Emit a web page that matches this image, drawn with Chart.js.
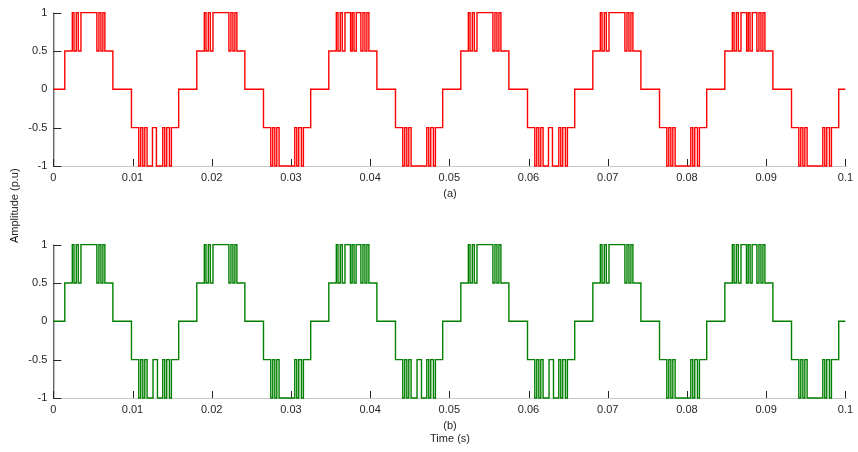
<!DOCTYPE html>
<html>
<head>
<meta charset="utf-8">
<script src="https://cdn.jsdelivr.net/npm/chart.js@4.4.1/dist/chart.umd.min.js"></script>
<style>
  html, body { margin: 0; padding: 0; background: #fff; }
  #wrap { position: relative; width: 858px; height: 452px; overflow: hidden;
          font-family: "Liberation Sans", Arial, sans-serif; color: #262626; }
  .panel { position: absolute; left: 0; }
  .lbl { position: absolute; font-size: 11px; line-height: 13px; white-space: nowrap;
         transform: translate(-50%, -50%); }
  .ylbl { position: absolute; font-size: 11px; line-height: 13px; white-space: nowrap;
          transform-origin: 0 0; transform: rotate(-90deg); color: #1a1a1a; }
</style>
</head>
<body>
<div id="wrap">
  <div class="panel" style="top:0"><canvas id="chartA" width="858" height="190"></canvas></div>
  <div class="panel" style="top:232px"><canvas id="chartB" width="858" height="190"></canvas></div>
  <div class="lbl" style="left:450px;top:193px">(a)</div>
  <div class="lbl" style="left:450px;top:425px">(b)</div>
  <div class="lbl" style="left:450px;top:438px">Time (s)</div>
  <div class="ylbl" style="left:8px;top:243px">Amplitude (p.u)</div>
</div>
<script>
// all times in ms
const cycleStart = [0, 16.667, 33.333, 50, 66.667, 83.333];
const stairEdges = [1.45, 7.52, 9.87, 15.83];
const stairLevels = [0.5, 0, -0.5, 0];

// switching instants between the half level and the full level
// (first one goes out to the full level, then they alternate)
const topEdges = [2.40, 2.61, 2.90, 3.15, 3.49, 5.50, 5.76, 6.01, 6.26, 6.51];
const bottomEdges = [10.79, 11.04, 11.30, 11.55, 11.84, 13.82, 14.07, 14.32, 14.66, 14.91];

// extra dips back to the half level inside the flat part
const topNotchesA = [4.20, 4.41, 4.63, 4.92];
const bottomNotchesA = [12.52, 13.02];
const topNotchesB = [4.18, 4.40, 4.64, 4.90];
const bottomNotchesB = [12.59, 13.15];

// which cycles have those dips
const notchTopA = [false, false, true, false, false, true];
const notchBottomA = [true, false, false, true, false, false];
const notchTopB = [false, false, true, false, false, true];
const notchBottomB = [true, false, true, true, false, false];

const xTickStep = 0.01;
const yTickStep = 0.5;

function buildWave(notchTop, notchBottom, topNotches, bottomNotches) {
  const pts = [{ x: 0, y: 0 }];
  let level = 0;
  const go = (ms, next) => {
    const t = ms / 1000;
    pts.push({ x: t, y: level }, { x: t, y: next });
    level = next;
  };
  cycleStart.forEach((c0, k) => {
    go(c0 + stairEdges[0], stairLevels[0]);
    topEdges.concat(notchTop[k] ? topNotches : []).sort((a, b) => a - b)
      .forEach((ms, i) => go(c0 + ms, i % 2 === 0 ? 1 : 0.5));
    go(c0 + stairEdges[1], stairLevels[1]);
    go(c0 + stairEdges[2], stairLevels[2]);
    bottomEdges.concat(notchBottom[k] ? bottomNotches : []).sort((a, b) => a - b)
      .forEach((ms, i) => go(c0 + ms, i % 2 === 0 ? -1 : -0.5));
    go(c0 + stairEdges[3], stairLevels[3]);
  });
  pts.push({ x: 0.1, y: level });
  return pts;
}

// matlab-ish axes: dark left spine, light bottom spine, ticks pointing in
const axesPlugin = {
  id: 'axesPlugin',
  beforeDatasetsDraw(chart) {
    const { ctx, chartArea: a, scales: { x, y } } = chart;
    ctx.save();
    ctx.lineWidth = 1;
    ctx.strokeStyle = '#c8c8c8';
    ctx.beginPath();
    ctx.moveTo(a.left, a.bottom + 0.5);
    ctx.lineTo(a.right + 2, a.bottom + 0.5);
    ctx.stroke();

    ctx.strokeStyle = '#262626';
    ctx.beginPath();
    x.ticks.forEach(t => {
      const px = Math.round(x.getPixelForValue(t.value)) + 0.5;
      ctx.moveTo(px, a.bottom);
      ctx.lineTo(px, a.bottom - 7);
    });
    y.ticks.forEach(t => {
      const py = Math.round(y.getPixelForValue(t.value)) + 0.5;
      ctx.moveTo(a.left, py);
      ctx.lineTo(a.left + 8, py);
    });
    ctx.stroke();
    ctx.beginPath();
    ctx.moveTo(a.left + 0.5, a.top);
    ctx.lineTo(a.left + 0.5, a.bottom + 1);
    ctx.stroke();
    ctx.restore();
  }
};

const tickFont = { family: '"Liberation Sans", Arial, sans-serif', size: 11 };

function makeChart(id, points, color) {
  return new Chart(document.getElementById(id), {
    type: 'line',
    data: {
      datasets: [{
        data: points,
        borderColor: color,
        borderWidth: 1.4,
        pointRadius: 0,
        tension: 0,
        clip: false,
        borderJoinStyle: 'miter',
      }],
    },
    options: {
      responsive: false,
      animation: false,
      events: [],
      layout: { padding: { left: 0, right: 10.7, top: 9, bottom: 0 } },
      plugins: { legend: { display: false }, tooltip: { enabled: false } },
      scales: {
        x: {
          type: 'linear', min: 0, max: 0.1,
          border: { display: false },
          grid: { display: false, drawTicks: false },
          ticks: {
            stepSize: xTickStep, autoSkip: false, maxRotation: 0, padding: 5,
            color: '#262626', font: tickFont,
            callback: v => String(Math.round(v * 100) / 100),
          },
          afterFit: s => { s.height = 24; },
        },
        y: {
          min: -1, max: 1,
          border: { display: false },
          grid: { display: false, drawTicks: false },
          ticks: {
            stepSize: yTickStep, padding: 6, color: '#262626', font: tickFont,
            callback: v => String(v),
          },
          afterFit: s => { s.width = 53.3; },
        },
      },
    },
    plugins: [axesPlugin],
  });
}

makeChart('chartA', buildWave(notchTopA, notchBottomA, topNotchesA, bottomNotchesA), '#ff0000');
makeChart('chartB', buildWave(notchTopB, notchBottomB, topNotchesB, bottomNotchesB), '#008000');
</script>
</body>
</html>
